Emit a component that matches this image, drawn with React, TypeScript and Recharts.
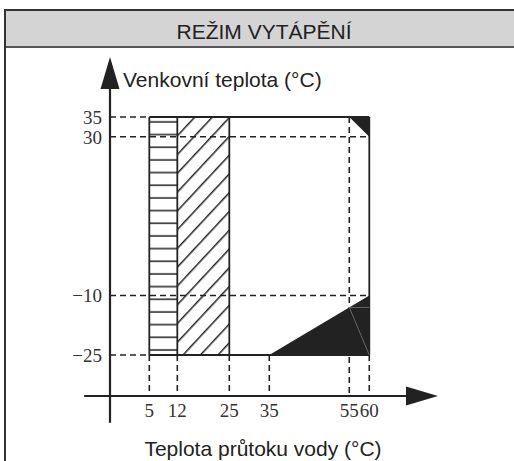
import React from 'react';
import {
  ComposedChart,
  XAxis,
  YAxis,
  ReferenceArea,
  ReferenceLine,
  Customized
} from 'recharts';

// Tick values
const xTicks = [5, 12, 25, 35, 55, 60];
const yTicks = [35, 30, -10, -25];

// Visible value range; the y axis sits on xDomain[0], the x axis on yDomain[0]
const xDomain = [-4.83, 77.18];
const yDomain = [-35.33, 50.12];
const xAxisStart = -11.3; // x axis runs a bit left of the y axis
const yAxisStart = -42.06; // y axis runs a bit below the x axis

// Operating envelope
const envX = [5, 60];
const envY = [-25, 35];
const dividers = [12, 25];
const hatchHoriz = [5, 12];
const hatchDiag = [12, 25];

// Black corners: the segment plus the corner (x2, y1) close the triangle
const corners = [
  [{ x: 55, y: 35 }, { x: 60, y: 30 }],
  [{ x: 35, y: -25 }, { x: 60, y: -10 }]
];
// Faint grey lines inside the lower black corner
const faintLines = [
  [{ x: 55, y: -13 }, { x: 60, y: -13 }],
  [{ x: 55, y: -13 }, { x: 60, y: -25 }]
];

// Dashed guide lines
const dashedH = [
  { y: 35, to: 5 },
  { y: 30, to: 60 },
  { y: -10, to: 60 },
  { y: -25, to: 5 }
];
const dashedV = [
  { x: 5, from: -25 },
  { x: 12, from: -25 },
  { x: 25, from: -25 },
  { x: 35, from: -25 },
  { x: 55, from: 35 },
  { x: 60, from: -25 }
];

const INK = '#222';
const SANS = "'Liberation Sans', Arial, sans-serif";
const SERIF = "'Liberation Serif', 'Times New Roman', serif";

const fmt = (v: number) => (v < 0 ? `\u2212${Math.abs(v)}` : `${v}`);

const Arrow = (p: any) => {
  const { x1, y1, x2, y2 } = p;
  const len = Math.hypot(x2 - x1, y2 - y1);
  const ux = (x2 - x1) / len;
  const uy = (y2 - y1) / len;
  const head = 32;
  const half = 9.5;
  const bx = x2 - ux * head;
  const by = y2 - uy * head;
  return (
    <g>
      <line x1={x1} y1={y1} x2={bx} y2={by} stroke={INK} strokeWidth={2.2} />
      <polygon
        points={`${x2},${y2} ${bx - uy * half},${by + ux * half} ${bx + uy * half},${by - ux * half}`}
        fill={INK}
      />
    </g>
  );
};

const Corner = (p: any) => (
  <polygon points={`${p.x1},${p.y1} ${p.x2},${p.y2} ${p.x2},${p.y1}`} fill={INK} />
);

const Texts = () => (
  <g fontFamily={SANS} fill={INK}>
    <text x={264} y={39} textAnchor="middle" fontSize={21}>REŽIM VYTÁPĚNÍ</text>
    <text x={123} y={87} fontSize={21}>Venkovní teplota (°C)</text>
    <text x={263} y={456} textAnchor="middle" fontSize={21}>Teplota průtoku vody (°C)</text>
  </g>
);

export default function App() {
  return (
    <div style={{ position: 'fixed', left: 0, top: 0, width: 514, height: 461, overflow: 'hidden', background: '#fff' }}>
      <div
        style={{
          position: 'absolute',
          left: 4,
          top: 9,
          width: 530,
          height: 470,
          borderTop: '2px solid #333',
          borderLeft: '2px solid #333'
        }}
      >
        <div style={{ height: 35, background: '#d4d4d4', borderBottom: '2px solid #555' }} />
      </div>
      <div style={{ position: 'absolute', left: 0, top: 0 }}>
        <ComposedChart width={514} height={461} margin={{ top: 57, right: 76, bottom: 35, left: 0 }}>
          <defs>
            <pattern id="hatchH" patternUnits="userSpaceOnUse" width={10} height={12.67}>
              <line x1={0} y1={7.9} x2={10} y2={7.9} stroke={INK} strokeWidth={1.5} />
            </pattern>
            <pattern
              id="hatchD"
              patternUnits="userSpaceOnUse"
              width={12.8}
              height={12.8}
              patternTransform="rotate(43)"
            >
              <line x1={4.7} y1={0} x2={4.7} y2={12.8} stroke={INK} strokeWidth={1.5} />
            </pattern>
          </defs>
          <XAxis
            type="number"
            dataKey="x"
            domain={xDomain}
            allowDataOverflow
            ticks={xTicks}
            interval={0}
            axisLine={false}
            tickLine={false}
            tick={{ fontFamily: SERIF, fontSize: 19, fill: '#333' }}
          />
          <YAxis
            type="number"
            dataKey="y"
            domain={yDomain}
            allowDataOverflow
            ticks={yTicks}
            interval={0}
            width={110}
            axisLine={false}
            tickLine={false}
            tickFormatter={fmt}
            tick={{ fontFamily: SERIF, fontSize: 19, fill: '#333' }}
          />

          {/* hatched bands */}
          <ReferenceArea x1={hatchHoriz[0]} x2={hatchHoriz[1]} y1={envY[0]} y2={envY[1]} fill="url(#hatchH)" fillOpacity={1} stroke="none" />
          <ReferenceArea x1={hatchDiag[0]} x2={hatchDiag[1]} y1={envY[0]} y2={envY[1]} fill="url(#hatchD)" fillOpacity={1} stroke="none" />

          {/* dashed guides */}
          {dashedH.map((d, i) => (
            <ReferenceLine
              key={`h${i}`}
              segment={[{ x: xDomain[0], y: d.y }, { x: d.to, y: d.y }]}
              stroke={INK}
              strokeWidth={1.6}
              strokeDasharray="6 4"
              ifOverflow="visible"
            />
          ))}
          {dashedV.map((d, i) => (
            <ReferenceLine
              key={`v${i}`}
              segment={[{ x: d.x, y: d.from }, { x: d.x, y: yDomain[0] }]}
              stroke={INK}
              strokeWidth={1.6}
              strokeDasharray="6 4"
              ifOverflow="visible"
            />
          ))}

          {/* envelope outline */}
          <ReferenceLine segment={[{ x: envX[0], y: envY[1] }, { x: envX[1], y: envY[1] }]} stroke={INK} strokeWidth={1.8} ifOverflow="visible" />
          <ReferenceLine segment={[{ x: envX[0], y: envY[0] }, { x: envX[1], y: envY[0] }]} stroke={INK} strokeWidth={1.8} ifOverflow="visible" />
          <ReferenceLine segment={[{ x: envX[0], y: envY[0] }, { x: envX[0], y: envY[1] }]} stroke={INK} strokeWidth={1.8} ifOverflow="visible" />
          <ReferenceLine segment={[{ x: envX[1], y: envY[0] }, { x: envX[1], y: envY[1] }]} stroke={INK} strokeWidth={1.8} ifOverflow="visible" />
          {dividers.map((x) => (
            <ReferenceLine key={`d${x}`} segment={[{ x, y: envY[0] }, { x, y: envY[1] }]} stroke={INK} strokeWidth={1.8} ifOverflow="visible" />
          ))}

          {/* black corners */}
          {corners.map((s, i) => (
            <ReferenceLine key={`c${i}`} segment={s} shape={Corner} ifOverflow="visible" />
          ))}
          {faintLines.map((s, i) => (
            <ReferenceLine key={`f${i}`} segment={s} stroke="#777" strokeWidth={0.8} ifOverflow="visible" />
          ))}

          {/* axes with arrowheads */}
          <ReferenceLine segment={[{ x: xDomain[0], y: yAxisStart }, { x: xDomain[0], y: yDomain[1] }]} shape={Arrow} ifOverflow="visible" />
          <ReferenceLine segment={[{ x: xAxisStart, y: yDomain[0] }, { x: xDomain[1], y: yDomain[0] }]} shape={Arrow} ifOverflow="visible" />

          <Customized component={Texts} />
        </ComposedChart>
      </div>
    </div>
  );
}
